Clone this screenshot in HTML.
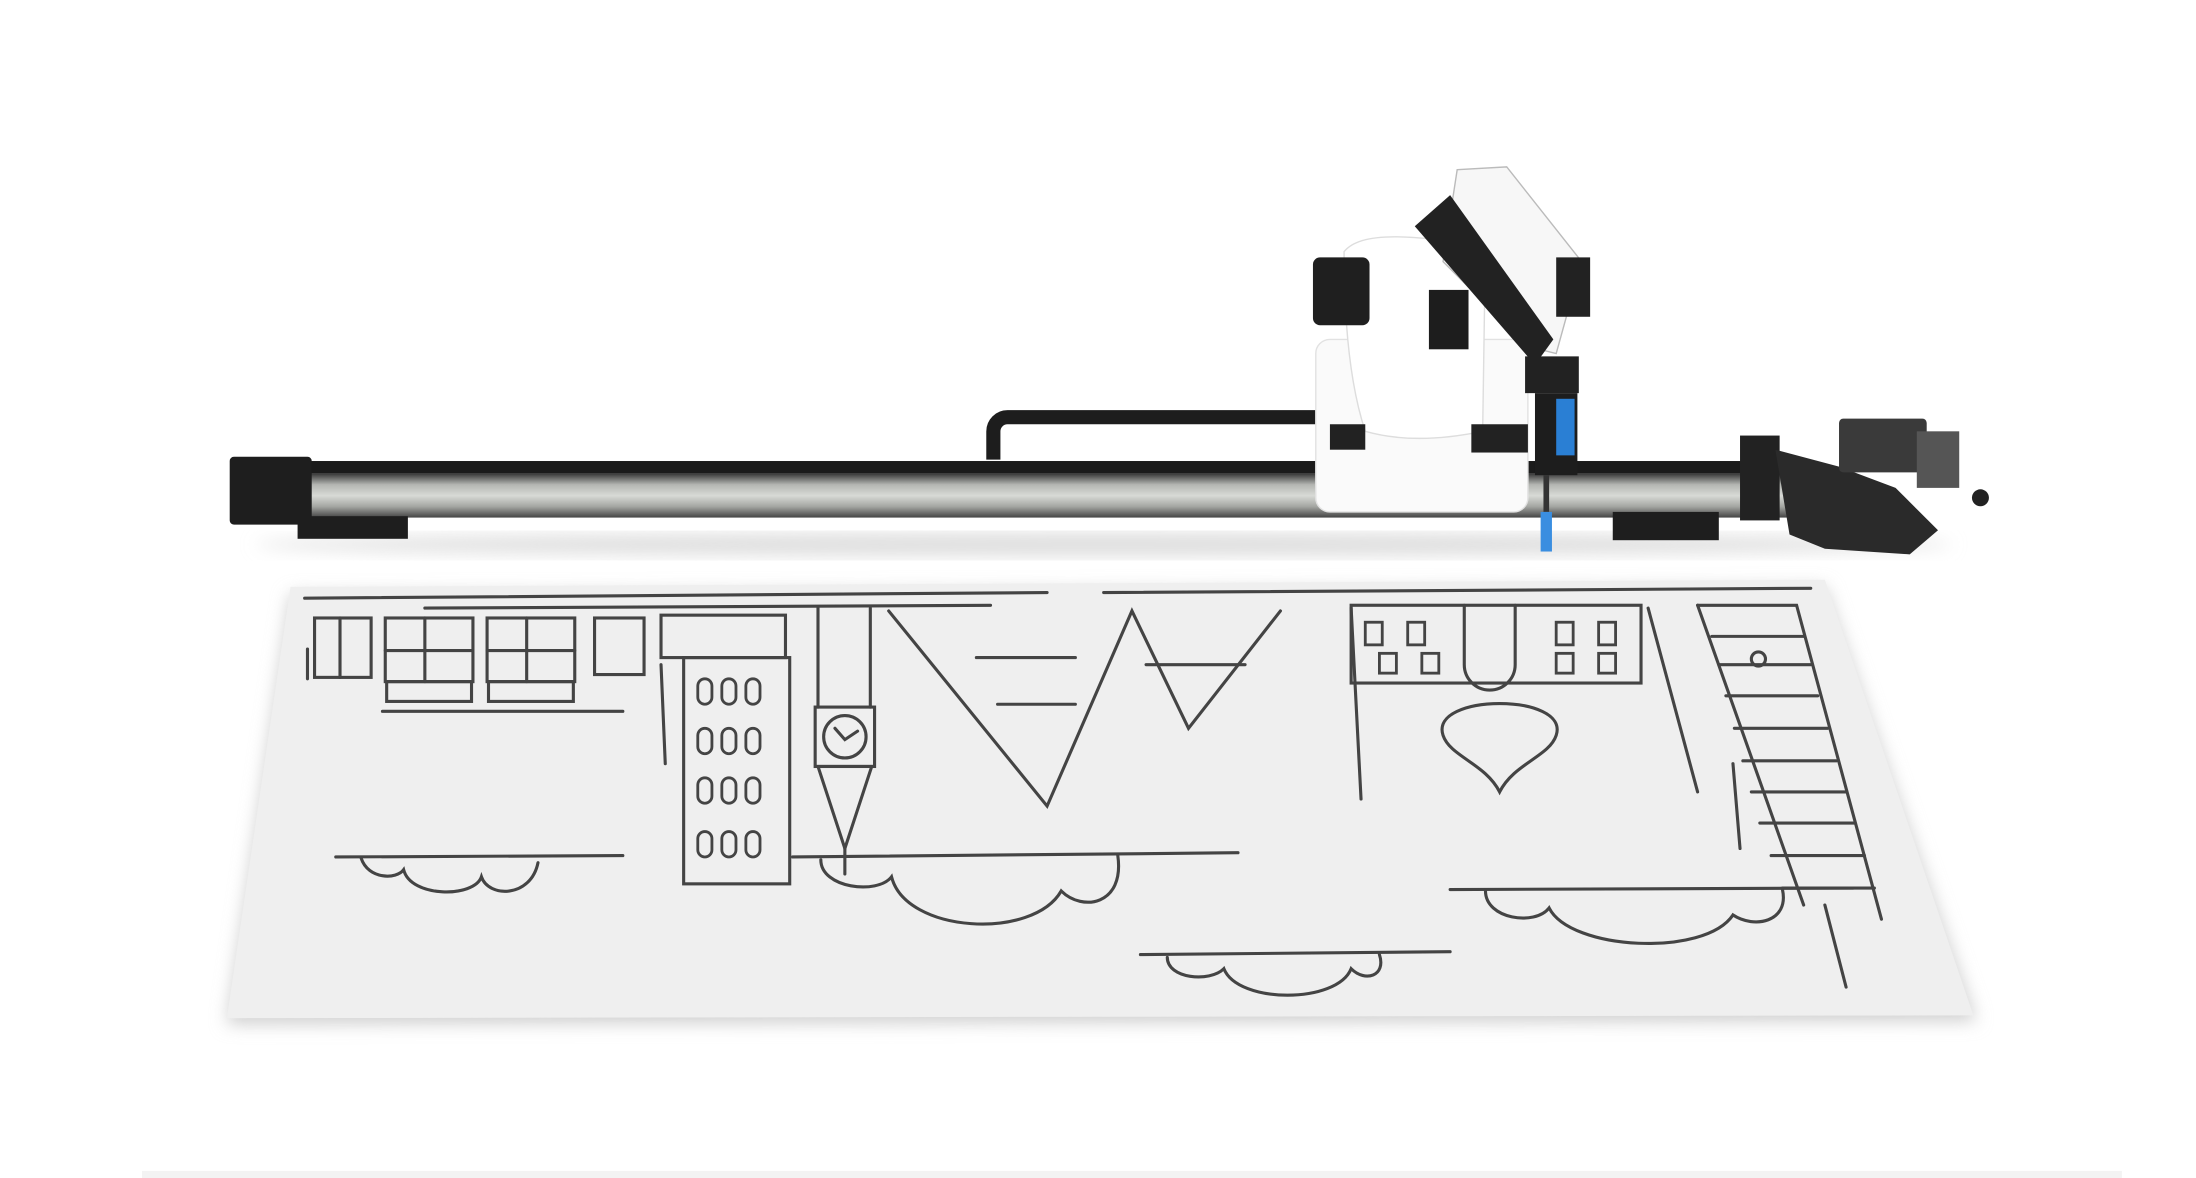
<!DOCTYPE html>
<html><head><meta charset="utf-8"><style>
html,body{margin:0;padding:0;background:#fff;}
svg{display:block;}
</style></head><body>
<svg width="2196" height="1178" viewBox="0 0 1552 833" xmlns="http://www.w3.org/2000/svg">
<defs>
<filter id="sh" x="-10%" y="-10%" width="120%" height="130%"><feGaussianBlur stdDeviation="6"/></filter>
<linearGradient id="rail" x1="0" y1="0" x2="0" y2="1">
<stop offset="0" stop-color="#3a3a3a"/><stop offset="0.25" stop-color="#b4b6b2"/><stop offset="0.5" stop-color="#d8dad6"/><stop offset="0.75" stop-color="#a4a6a2"/><stop offset="1" stop-color="#444"/></linearGradient>
</defs>
<rect width="1552" height="833" fill="#fff"/>
<polygon points="205,420 1290,415 1397,722 160,724" fill="#cfcfcf" filter="url(#sh)"/>
<polygon points="205,415 1290,410 1395,718 160,720" fill="#efefef"/>
<g fill="none" stroke="#444" stroke-width="2.2" stroke-linecap="round">
<line x1="215" y1="423" x2="740" y2="419"/><line x1="780" y1="419" x2="1280" y2="416"/>
<line x1="300" y1="430" x2="700" y2="428"/>
<rect x="222" y="437" width="40" height="42"/><rect x="272" y="437" width="62" height="45"/><rect x="273" y="482" width="60" height="14"/>
<rect x="344" y="437" width="62" height="45"/><rect x="345" y="482" width="60" height="14"/><rect x="420" y="437" width="35" height="40"/>
<line x1="240" y1="437" x2="240" y2="479"/><line x1="300" y1="437" x2="300" y2="482"/><line x1="372" y1="437" x2="372" y2="482"/>
<line x1="272" y1="460" x2="334" y2="460"/><line x1="344" y1="460" x2="406" y2="460"/>
<line x1="270" y1="503" x2="440" y2="503"/>
<rect x="467" y="435" width="88" height="30"/><rect x="483" y="465" width="75" height="160"/>
<g stroke-width="2"><rect x="493" y="480" width="10" height="18" rx="5"/><rect x="510" y="480" width="10" height="18" rx="5"/><rect x="527" y="480" width="10" height="18" rx="5"/>
<rect x="493" y="515" width="10" height="18" rx="5"/><rect x="510" y="515" width="10" height="18" rx="5"/><rect x="527" y="515" width="10" height="18" rx="5"/>
<rect x="493" y="550" width="10" height="18" rx="5"/><rect x="510" y="550" width="10" height="18" rx="5"/><rect x="527" y="550" width="10" height="18" rx="5"/>
<rect x="493" y="588" width="10" height="18" rx="5"/><rect x="510" y="588" width="10" height="18" rx="5"/><rect x="527" y="588" width="10" height="18" rx="5"/></g>
<line x1="578" y1="430" x2="578" y2="500"/><line x1="615" y1="430" x2="615" y2="500"/>
<rect x="576" y="500" width="42" height="42"/><circle cx="597" cy="521" r="15"/><polyline points="590,515 597,523 606,517"/>
<polygon points="578,542 616,542 597,600"/><line x1="597" y1="600" x2="597" y2="618"/>
<polyline points="628,432 740,570 800,432 840,515 905,432"/>
<line x1="690" y1="465" x2="760" y2="465"/><line x1="705" y1="498" x2="760" y2="498"/><line x1="810" y1="470" x2="880" y2="470"/>
<rect x="955" y="428" width="205" height="55"/><path d="M1035,428 V470 a18,18 0 0 0 36,0 V428"/>
<path d="M1020,520 c-10,-30 90,-30 80,0 c-5,15 -30,20 -40,40 c-10,-20 -35,-25 -40,-40z"/>
<line x1="955" y1="430" x2="962" y2="565"/><line x1="1165" y1="430" x2="1200" y2="560"/>
<g stroke-width="2"><rect x="965" y="440" width="12" height="16"/><rect x="995" y="440" width="12" height="16"/><rect x="1100" y="440" width="12" height="16"/><rect x="1130" y="440" width="12" height="16"/>
<rect x="975" y="462" width="12" height="14"/><rect x="1005" y="462" width="12" height="14"/><rect x="1100" y="462" width="12" height="14"/><rect x="1130" y="462" width="12" height="14"/></g>
<polyline points="1200,428 1270,428 1330,650"/><line x1="1200" y1="428" x2="1275" y2="640"/>
<line x1="1210" y1="450" x2="1275" y2="450"/><line x1="1215" y1="470" x2="1280" y2="470"/><line x1="1220" y1="492" x2="1285" y2="492"/><line x1="1226" y1="515" x2="1292" y2="515"/>
<line x1="1232" y1="538" x2="1298" y2="538"/><line x1="1238" y1="560" x2="1305" y2="560"/><line x1="1244" y1="582" x2="1311" y2="582"/><line x1="1252" y1="605" x2="1318" y2="605"/><line x1="1260" y1="628" x2="1325" y2="628"/>
<circle cx="1243" cy="466" r="5"/><line x1="1290" y1="640" x2="1305" y2="698"/>
<line x1="237" y1="606" x2="440" y2="605"/><path d="M255,607 c5,15 25,15 30,8 c5,20 50,20 55,5 c5,15 35,15 40,-10"/>
<line x1="560" y1="606" x2="875" y2="603"/><path d="M580,608 c0,20 40,25 50,12 c10,40 100,45 120,10 c15,15 45,10 40,-25"/>
<line x1="806" y1="675" x2="1025" y2="673"/><path d="M825,677 c0,15 30,18 40,8 c10,25 80,25 90,0 c10,10 25,5 20,-10"/>
<line x1="1025" y1="629" x2="1310" y2="628"/><path d="M1050,630 c0,20 35,25 45,12 c15,30 110,35 130,5 c15,10 40,5 35,-18"/>
<line x1="217" y1="459" x2="217" y2="480"/><line x1="467" y1="470" x2="470" y2="540"/><line x1="1225" y1="540" x2="1230" y2="600"/>
</g>
<ellipse cx="780" cy="385" rx="600" ry="8" fill="#ddd" filter="url(#sh)"/>
<path d="M935,295 H712 a10,10 0 0 0 -10,10 V325" fill="none" stroke="#1d1d1d" stroke-width="10"/>
<rect x="175" y="326" width="1090" height="9" fill="#1b1b1b"/>
<rect x="175" y="335" width="1090" height="31" fill="url(#rail)"/>
<rect x="162" y="323" width="58" height="48" rx="3" fill="#1e1e1e"/>
<rect x="210" y="365" width="78" height="16" fill="#1e1e1e"/>
<rect x="1140" y="362" width="75" height="20" fill="#1e1e1e"/>
<rect x="1230" y="308" width="28" height="60" fill="#222"/>
<polygon points="1255,318 1300,330 1340,345 1370,375 1350,392 1290,388 1265,378" fill="#2a2a2a"/>
<rect x="1300" y="296" width="62" height="38" rx="3" fill="#3a3a3a"/>
<rect x="1355" y="305" width="30" height="40" fill="#555"/>
<circle cx="1400" cy="352" r="6" fill="#222"/>
<!-- robot -->
<rect x="930" y="240" width="150" height="122" rx="10" fill="#fafafa" stroke="#e2e2e2"/>
<path d="M950,178 Q960,165 1000,168 L1050,172 L1048,305 Q1000,315 965,305 Q950,260 950,178z" fill="#fff" stroke="#ddd"/>
<rect x="940" y="300" width="25" height="18" fill="#222"/>
<rect x="1040" y="300" width="40" height="20" fill="#222"/>
<rect x="928" y="182" width="40" height="48" rx="5" fill="#1f1f1f"/>
<rect x="1010" y="205" width="28" height="42" fill="#1d1d1d"/>
<polygon points="1030,120 1065,118 1118,185 1100,250 1080,245 1020,185" fill="#f7f7f7" stroke="#bbb"/>
<polygon points="1000,160 1025,138 1098,240 1085,258" fill="#222"/>
<rect x="1100" y="182" width="24" height="42" fill="#222"/>
<rect x="1078" y="252" width="38" height="26" fill="#222"/>
<rect x="1085" y="278" width="30" height="58" fill="#1d1d1d"/>
<rect x="1100" y="282" width="13" height="40" fill="#2a7fd4"/>
<line x1="1093" y1="336" x2="1093" y2="362" stroke="#333" stroke-width="4"/>
<rect x="1089" y="362" width="8" height="28" fill="#3a8ee0"/>
<rect x="100" y="828" width="1400" height="5" fill="#f3f3f3"/>
</svg>
</body></html>
